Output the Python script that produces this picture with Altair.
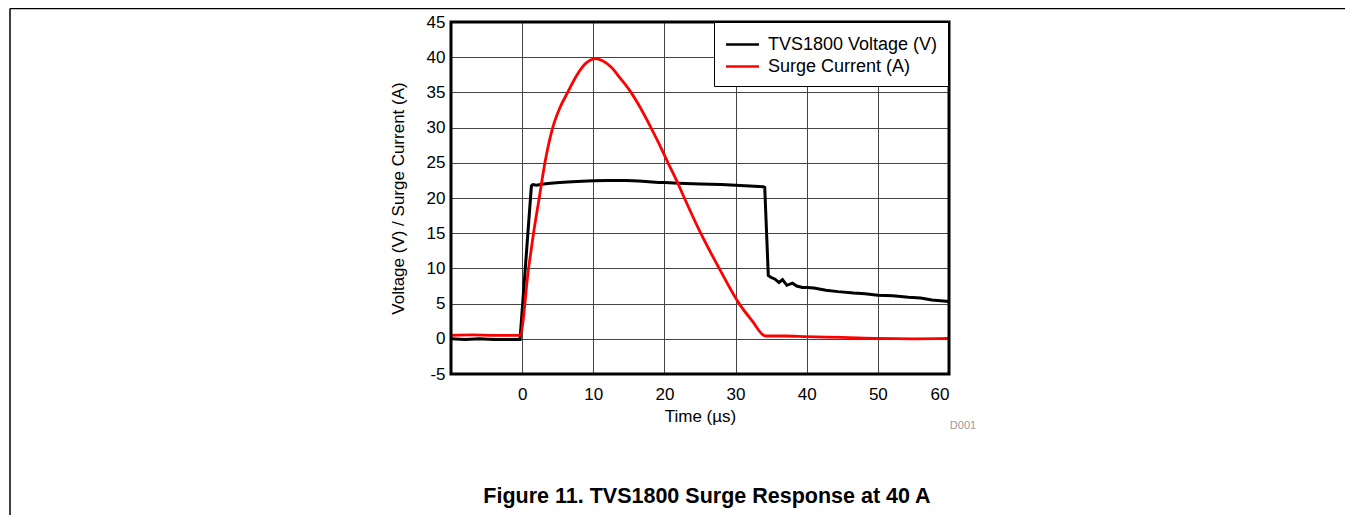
import altair as alt
import pandas as pd

# ---- data ----
volt_t = [-10, -8, -6, -4, -2, -0.3, 1.3, 1.5, 2.0, 3.0, 4.0, 5.3, 7.0, 10.0, 12.0,
          14.6, 16.4, 19.2, 20.0, 22.0, 25.0, 28.0, 30.0, 33.9, 34.1, 34.6, 35.0,
          35.5, 36.1, 36.6, 37.2, 38.0, 38.6, 39.4, 40.0, 41.0, 42.7, 44.4, 46.6,
          48.2, 50.0, 52.1, 54.3, 56.0, 57.6, 60.0]
volt_v = [0.0, -0.1, 0.0, -0.1, -0.1, -0.1, 21.7, 21.9, 21.8, 22.0, 22.1, 22.2, 22.3,
          22.45, 22.5, 22.5, 22.4, 22.2, 22.2, 22.1, 22.0, 21.9, 21.8, 21.6, 21.5,
          9.0, 8.7, 8.5, 8.0, 8.4, 7.6, 7.9, 7.5, 7.3, 7.3, 7.2, 6.9, 6.7, 6.5, 6.4,
          6.2, 6.1, 5.9, 5.8, 5.5, 5.3]

curr_t = [-10, -7, -4, -0.3, 0.9, 1.6, 2.4, 3.2, 4.3, 5.3, 6.4, 7.6, 8.8, 9.6, 10.3,
          11.3, 12.5, 13.8, 15.3, 16.4, 18.1, 19.2, 20.5, 21.7, 22.8, 25.1, 27.7,
          30.5, 32.3, 34.2, 37.0, 40.0, 45.0, 50.0, 55.0, 60.0]
curr_i = [0.5, 0.55, 0.5, 0.5, 10.0, 15.0, 20.0, 25.0, 30.0, 32.8, 35.0, 37.3, 39.0,
          39.6, 39.8, 39.5, 38.6, 37.0, 35.0, 33.2, 30.0, 27.8, 25.0, 22.5, 20.0,
          15.0, 10.0, 5.0, 2.6, 0.4, 0.4, 0.3, 0.2, 0.05, 0.0, 0.05]

series_names = ["TVS1800 Voltage (V)", "Surge Current (A)"]
series_colors = ["#000000", "#ff0000"]
x_ticks = [0, 10, 20, 30, 40, 50, 60]
y_ticks = [-5, 0, 5, 10, 15, 20, 25, 30, 35, 40, 45]
caption = "Figure 11. TVS1800 Surge Response at 40 A"
code_label = "D001"

FONT = "Liberation Sans, Arial, sans-serif"

df_v = pd.DataFrame({"t": volt_t, "y": volt_v, "series": series_names[0]})
df_i = pd.DataFrame({"t": curr_t, "y": curr_i, "series": series_names[1]})

W, H = 498, 352

x_enc = alt.X("t:Q", scale=alt.Scale(domain=[-10, 60], nice=False, zero=False),
              axis=alt.Axis(values=x_ticks, title="Time (µs)", grid=True, ticks=False,
                            domain=False, labelPadding=12, titlePadding=6,
                            labelFontSize=17, titleFontSize=17, labelFont=FONT,
                            titleFont=FONT, titleFontWeight="normal", labelColor="#000",
                            titleColor="#000", gridColor="#444444", gridWidth=1,
                            labelOverlap=False, labelExpr="'' + datum.value"))
y_enc = alt.Y("y:Q", scale=alt.Scale(domain=[-5, 45], nice=False, zero=False),
              axis=alt.Axis(values=y_ticks, title="Voltage (V) / Surge Current (A)",
                            grid=True, ticks=False, domain=False, labelPadding=6,
                            titlePadding=19, labelFontSize=17, titleFontSize=17,
                            labelFont=FONT, titleFont=FONT, titleFontWeight="normal",
                            labelColor="#000", titleColor="#000", gridColor="#444444",
                            gridWidth=1, labelOverlap=False, labelSeparation=0,
                            labelExpr="'' + datum.value"))
color_enc = alt.Color("series:N",
                      scale=alt.Scale(domain=series_names, range=series_colors),
                      legend=alt.Legend(title=None, orient="none", legendX=263, legendY=0,
                                        symbolType="M-1.5,0H1.5", symbolSize=484,
                                        symbolStrokeWidth=2.5, symbolOffset=6,
                                        labelFontSize=18, labelFont=FONT, labelLimit=400,
                                        labelColor="#000", labelOffset=13,
                                        padding=10, rowPadding=0, strokeColor="#000",
                                        fillColor="#ffffff"))

line_v = alt.Chart(df_v).mark_line(strokeWidth=3).encode(x=x_enc, y=y_enc, color=color_enc)
line_i = alt.Chart(df_i).mark_line(strokeWidth=2.8, interpolate="monotone").encode(
    x=x_enc, y=y_enc, color=color_enc)

plot_frame = alt.Chart(pd.DataFrame({"k": [0]})).mark_rect(
    fill=None, fillOpacity=0, stroke="#000", strokeWidth=3).encode(
    x=alt.value(0), x2=alt.value(W), y=alt.value(0), y2=alt.value(H))

cap = alt.Chart(pd.DataFrame({"txt": [caption]})).mark_text(
    font=FONT, fontSize=21.5, fontWeight="bold", align="center", baseline="alphabetic",
    color="#000").encode(text="txt:N", x=alt.value(256), y=alt.value(481))
code = alt.Chart(pd.DataFrame({"txt": [code_label]})).mark_text(
    font=FONT, fontSize=11, align="center", baseline="middle", color="#999999").encode(
    text="txt:N", x=alt.value(512), y=alt.value(404))

frame_left = alt.Chart(pd.DataFrame({"k": [0]})).mark_rule(color="#000", strokeWidth=1.5).encode(
    x=alt.value(-441), y=alt.value(-13.5), y2=alt.value(493))
frame_top = alt.Chart(pd.DataFrame({"k": [0]})).mark_rule(color="#000", strokeWidth=1.5).encode(
    x=alt.value(-441), x2=alt.value(894), y=alt.value(-13.5))

chart = alt.layer(line_v, line_i, plot_frame, cap, code, frame_left, frame_top).properties(
    width=W, height=H,
    autosize=alt.AutoSizeParams(type="none"),
    padding={"left": 443, "top": 14, "right": 396, "bottom": 141},
).configure_view(stroke=None).configure_axis(labelOverlap=False).configure(background="white")

chart.save("out.html", embed_options={"renderer": "svg", "actions": False})
